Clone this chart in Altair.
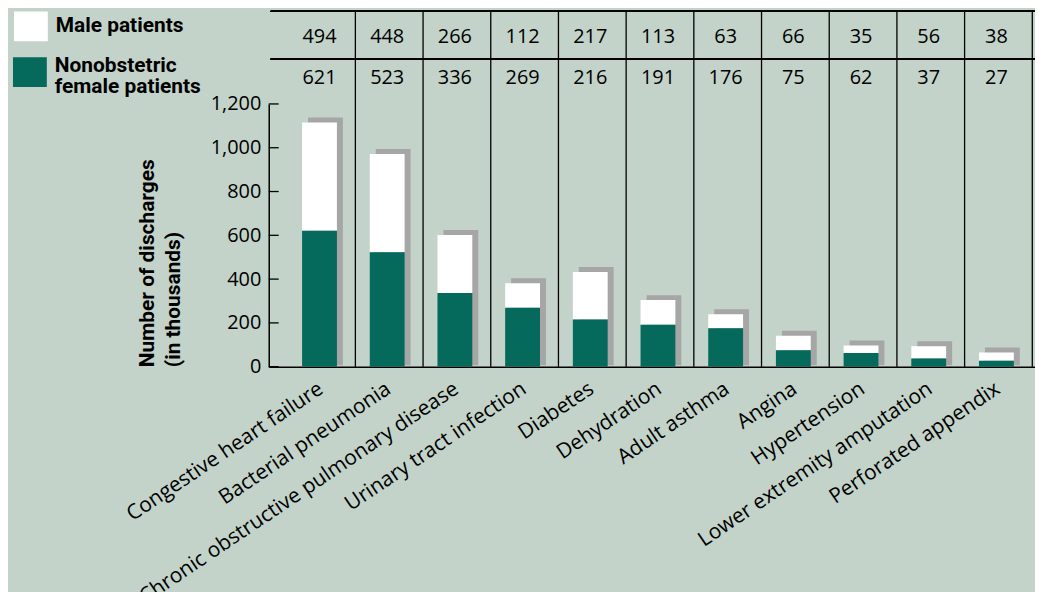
import altair as alt
import pandas as pd

categories = [
    "Congestive heart failure", "Bacterial pneumonia",
    "Chronic obstructive pulmonary disease", "Urinary tract infection",
    "Diabetes", "Dehydration", "Adult asthma", "Angina", "Hypertension",
    "Lower extremity amputation", "Perforated appendix",
]
male = [494, 448, 266, 112, 217, 113, 63, 66, 35, 56, 38]
female = [621, 523, 336, 269, 216, 191, 176, 75, 62, 37, 27]
y_ticks = [0, 200, 400, 600, 800, 1000, 1200]
MALE_NAME = "Male patients"
FEMALE_NAME = "Nonobstetric female patients"
FEMALE_LINES = ["Nonobstetric", "female patients"]

BG = "#c3d3c9"
TEAL = "#05695b"
GRAY = "#a6a6a6"
FONT = "Open Sans"
BOLD_FONT = "Roboto"
W, H = 770, 264

n = len(categories)
male_df = pd.DataFrame(dict(idx=list(range(n)), series=[MALE_NAME] * n,
                            y0=female, y1=[f + m for f, m in zip(female, male)]))
female_df = pd.DataFrame(dict(idx=list(range(n)), series=[FEMALE_NAME] * n,
                              y0=[0] * n, y1=female))
tab_df = pd.DataFrame(dict(idx=list(range(n)), cat=categories, male=male, female=female))
tick_df = pd.DataFrame(dict(v=y_ticks))

xscale = alt.Scale(domain=[-0.75, 10.57], nice=False, zero=False, padding=0)
yscale = alt.Scale(domain=[0, 1200], nice=False, padding=0)

label_expr = "[" + ",".join("'" + c + "'" for c in categories) + "][datum.value]"
xaxis = alt.Axis(values=list(range(n)), labelExpr=label_expr, labelAngle=-34,
                 labelAlign="right", labelBaseline="top", labelPadding=11,
                 labelOffset=-5, labelFontSize=21, labelFont=FONT, labelColor="black",
                 labelOverlap=False, labelFlush=False, labelBound=False, labelLimit=0,
                 ticks=False, tickSize=0, domainColor="black", domainWidth=1.5,
                 grid=False, title=None)
yaxis = alt.Axis(values=y_ticks, format=",d", ticks=False, tickSize=0, labelPadding=8,
                 labelFontSize=20, labelFont=FONT, labelColor="black",
                 title=["Number of discharges", "(in thousands)"], titleFont=BOLD_FONT,
                 titleFontSize=21, titleFontWeight="bold", titleColor="black",
                 titleAnchor="start", titlePadding=27, titleLineHeight=26,
                 domainColor="black", domainWidth=1.5, grid=False)


def xenc(field):
    return alt.X(field, type="quantitative", scale=xscale, axis=xaxis)


def yenc(field):
    return alt.Y(field, type="quantitative", scale=yscale, axis=yaxis)


tab = alt.Chart(tab_df).transform_calculate(sep="datum.idx + 0.53")

separators = tab.mark_rule(color="black", strokeWidth=1.3).encode(
    x=xenc("sep"), y=alt.value(-93), y2=alt.value(H))
top_line = alt.Chart(tab_df).mark_rule(color="black", strokeWidth=1.3).encode(
    x=alt.value(2), x2=alt.value(W), y=alt.value(-93))
mid_line = alt.Chart(tab_df).mark_rule(color="black", strokeWidth=1.3).encode(
    x=alt.value(2), x2=alt.value(W), y=alt.value(-45))

shadow = tab.transform_calculate(total="datum.male + datum.female").mark_bar(
    color=GRAY, width=35, xOffset=6, yOffset=-5, y2Offset=-1.5).encode(
    x=xenc("idx"), y=yenc("total"), y2=alt.datum(0))

sym = "M-1,-0.88H1V0.88H-1Z"
common_legend = dict(orient="none", title=None, symbolType=sym, symbolSize=1156,
                     symbolStrokeWidth=0, symbolOpacity=1, labelFontSize=21,
                     labelFontWeight="bold", labelFont=BOLD_FONT, labelColor="black",
                     labelOffset=8, labelLimit=0, padding=0)
legend_m = alt.Legend(legendX=-256, legendY=-95, labelBaseline="middle", **common_legend)
legend_f = alt.Legend(legendX=-257, legendY=-49, labelBaseline="alphabetic",
                      labelExpr="[" + ",".join("'" + s + "'" for s in FEMALE_LINES) + "]",
                      **common_legend)

male_bars = alt.Chart(male_df).mark_bar(width=35, opacity=1).encode(
    x=xenc("idx"), y=yenc("y1"), y2="y0:Q",
    color=alt.Color("series:N", scale=alt.Scale(domain=[MALE_NAME], range=["white"]),
                    legend=legend_m),
)
female_bars = alt.Chart(female_df).mark_bar(width=35, opacity=1).encode(
    x=xenc("idx"), y=yenc("y1"), y2="y0:Q",
    fill=alt.Fill("series:N", scale=alt.Scale(domain=[FEMALE_NAME], range=[TEAL]),
                  legend=legend_f),
)

ticks = alt.Chart(tick_df).mark_rule(color="black", strokeWidth=1.3).encode(
    y=yenc("v"), x=alt.value(0), x2=alt.value(10))

row_male = tab.mark_text(fontSize=20, font=FONT, color="black", baseline="middle").encode(
    x=xenc("idx"), y=alt.value(-67), text="male:Q")
row_female = tab.mark_text(fontSize=20, font=FONT, color="black", baseline="middle").encode(
    x=xenc("idx"), y=alt.value(-26), text="female:Q")

chart = alt.layer(separators, top_line, mid_line, shadow, male_bars, female_bars, ticks,
                  row_male, row_female).properties(
    width=W, height=H,
    autosize=alt.AutoSizeParams(type="none"),
    padding={"left": 262, "top": 95, "right": 0, "bottom": 225},
    background=BG,
).configure(style={"guide-label": {"lineHeight": 21}},
            view=alt.ViewConfig(stroke=None))

chart.save("out.html", embed_options={"renderer": "svg", "actions": False})
